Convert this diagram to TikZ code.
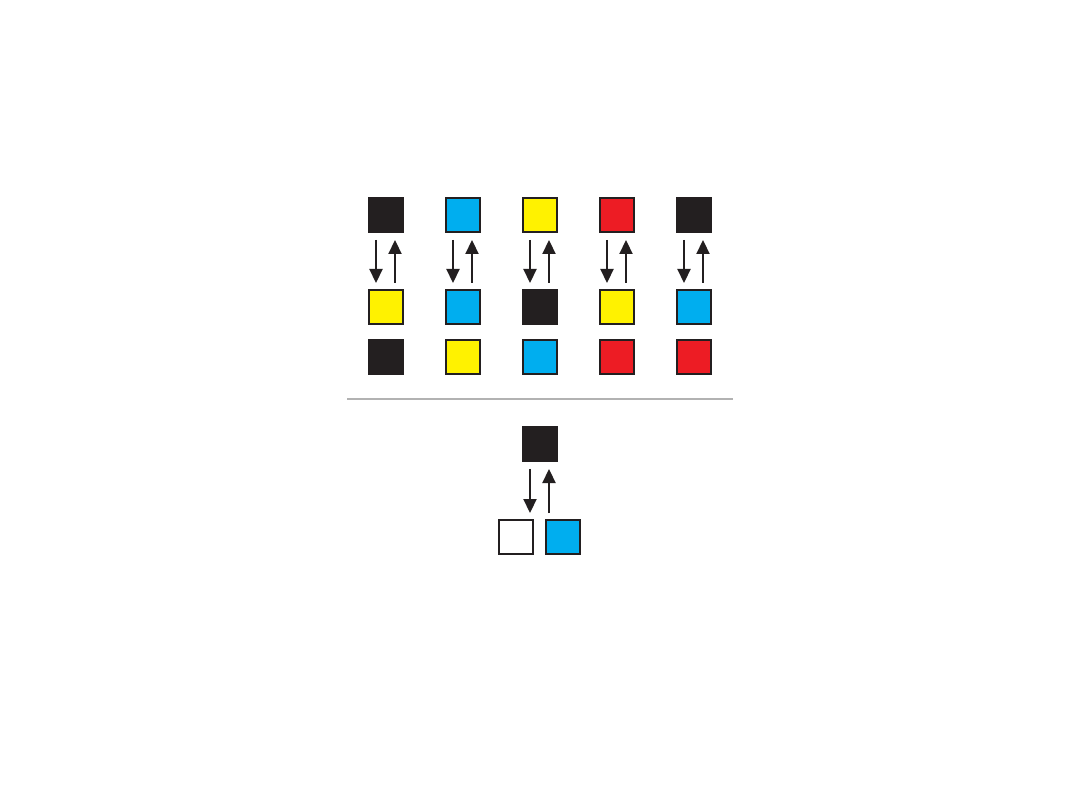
\documentclass[tikz,border=0pt]{standalone}
\usetikzlibrary{arrows.meta}
\definecolor{ink}{HTML}{231F20}
\definecolor{cy}{HTML}{00AEEF}
\definecolor{ye}{HTML}{FFF200}
\definecolor{rd}{HTML}{ED1C24}
\begin{document}
\begin{tikzpicture}[x=1pt,y=-1pt,
  sq/.style={draw=ink,line width=2pt,minimum size=34pt,inner sep=0pt,fill=#1},
  arr/.style={draw=ink,line width=2.2pt,-{Triangle[width=13pt,length=14pt]}}]
\useasboundingbox (0,0) rectangle (1080,810);
\foreach \i/\a/\b/\c in {1/ink/ye/ink,2/cy/cy/ye,3/ye/ink/cy,4/rd/ye/rd,5/ink/cy/rd}{
  \pgfmathsetmacro{\xx}{385.5+77*(\i-1)}
  \node[sq=\a] (t\i) at (\xx,215) {};
  \node[sq=\b] (m\i) at (\xx,307) {};
  \node[sq=\c] (b\i) at (\xx,357) {};
  \draw[arr] ([shift={(-9.5,7)}]t\i.south) -- ([shift={(-9.5,-6)}]m\i.north);
  \draw[arr] ([shift={(9.5,-6)}]m\i.north) -- ([shift={(9.5,7)}]t\i.south);
}
\coordinate (l1) at (347,399);
\coordinate (l2) at (733,399);
\draw[draw=black!30,line width=1.2pt] (l1) -- (l2);
\node[sq=ink] (k) at (539.5,444) {};
\node[sq=white] (w) at (516,537) {};
\node[sq=cy] (c) at (563,537) {};
\draw[arr] ([shift={(-9.5,7)}]k.south) -- ([shift={(-9.5,51)}]k.south);
\draw[arr] ([shift={(9.5,51)}]k.south) -- ([shift={(9.5,7)}]k.south);
\end{tikzpicture}
\end{document}
